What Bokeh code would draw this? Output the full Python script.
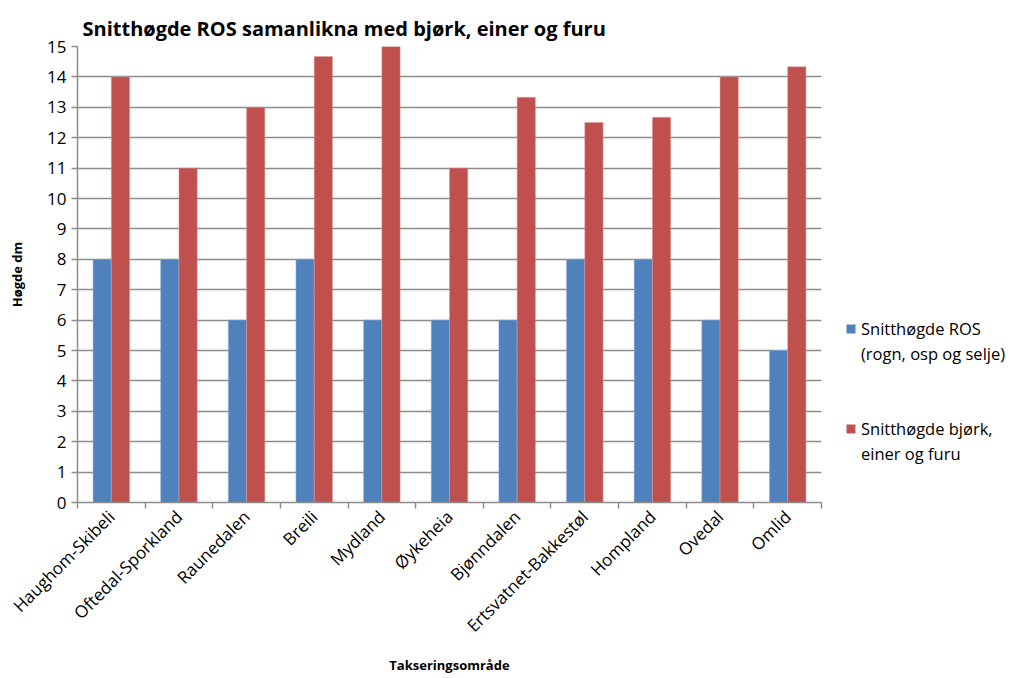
import math
from bokeh.plotting import figure
from bokeh.models import ColumnDataSource, FixedTicker, Legend, LegendItem, Range1d
from bokeh.embed import file_html
from bokeh.resources import INLINE

areas = ["Haughom-Skibeli", "Oftedal-Sporkland", "Raunedalen", "Breili", "Mydland",
         "Øykeheia", "Bjønndalen", "Ertsvatnet-Bakkestøl", "Hompland", "Ovedal", "Omlid"]
ros = [8, 8, 6, 8, 6, 6, 6, 8, 8, 6, 5]
bjork = [14, 11, 13, 14.67, 15, 11, 13.33, 12.5, 12.67, 14, 14.33]
ros_label = ["Snitthøgde ROS", "(rogn, osp og selje)"]
bjork_label = ["Snitthøgde bjørk,", "einer og furu"]
y_ticks = list(range(0, 16))

FONT = "Open Sans"
centers = [i + 0.5 for i in range(len(areas))]
bw = 0.27
src = ColumnDataSource(dict(
    xb=[c - bw / 2 for c in centers],
    xr=[c + bw / 2 for c in centers],
    ros=ros, bjork=bjork))

p = figure(frame_width=744, frame_height=456, output_backend="svg", toolbar_location=None,
           x_range=Range1d(0, len(areas)), y_range=Range1d(0, 15),
           min_border_left=77, min_border_right=0, min_border_top=46, min_border_bottom=150)
p.title.text = "Snitthøgde ROS samanlikna med bjørk, einer og furu"
p.title.text_font = FONT
p.title.text_font_size = "20px"
p.title.text_color = "black"
p.title.offset = 5

p.outline_line_color = None
rb = p.vbar(x="xb", top="ros", width=bw, source=src, fill_color="#4F81BD", line_color="#8FB0D8", line_width=0.5)
rr = p.vbar(x="xr", top="bjork", width=bw, source=src, fill_color="#C0504D", line_color="#E09A98", line_width=0.5)
# invisible renderer used only for text-only legend rows
blank = p.vbar(x="xb", top="ros", width=bw, source=src, fill_alpha=0, line_alpha=0)

p.xaxis.ticker = FixedTicker(ticks=centers, minor_ticks=list(range(len(areas) + 1)))
p.xaxis.major_label_overrides = {c: a for c, a in zip(centers, areas)}
p.xaxis.major_label_orientation = math.pi / 4
p.xaxis.major_tick_line_color = None
p.xaxis.minor_tick_in = 0
p.xaxis.minor_tick_out = 6
p.xaxis.minor_tick_line_color = "#8c8c8c"
p.xaxis.minor_tick_line_width = 1.5
p.xaxis.axis_label = "Takseringsområde"
p.xaxis.axis_label_standoff = 8

p.yaxis.ticker = FixedTicker(ticks=y_ticks)
p.yaxis.minor_tick_line_color = None
p.yaxis.major_tick_in = 0
p.yaxis.major_tick_out = 6
p.yaxis.major_tick_line_color = "#8c8c8c"
p.yaxis.major_tick_line_width = 1.5
p.yaxis.axis_label = "Høgde dm"
p.yaxis.axis_label_standoff = 18

for ax in (p.xaxis, p.yaxis):
    ax.axis_line_color = "#8c8c8c"
    ax.axis_line_width = 1.5
    ax.major_label_text_font = FONT
    ax.major_label_text_font_size = "17px"
    ax.major_label_text_color = "black"
    ax.axis_label_text_font = FONT
    ax.axis_label_text_font_style = "bold"
    ax.axis_label_text_font_size = "13px"
    ax.axis_label_text_color = "black"

p.xgrid.grid_line_color = None
p.ygrid.ticker = FixedTicker(ticks=y_ticks[1:])
p.ygrid.grid_line_color = "#8c8c8c"
p.ygrid.grid_line_width = 1.5

items = [LegendItem(label=ros_label[0], renderers=[rb]),
         LegendItem(label=ros_label[1], renderers=[blank]),
         LegendItem(label=" ", renderers=[blank]),
         LegendItem(label=" ", renderers=[blank]),
         LegendItem(label=bjork_label[0], renderers=[rr]),
         LegendItem(label=bjork_label[1], renderers=[blank])]
legend = Legend(items=items, location=(24, 36), label_text_font=FONT, label_text_font_size="16.5px",
                label_text_color="black", glyph_width=11, glyph_height=11, label_height=25,
                spacing=0, border_line_color=None, background_fill_alpha=0,
                padding=0, margin=0, label_standoff=5)
p.add_layout(legend, "right")

open("out.html", "w").write(file_html(p, INLINE))
